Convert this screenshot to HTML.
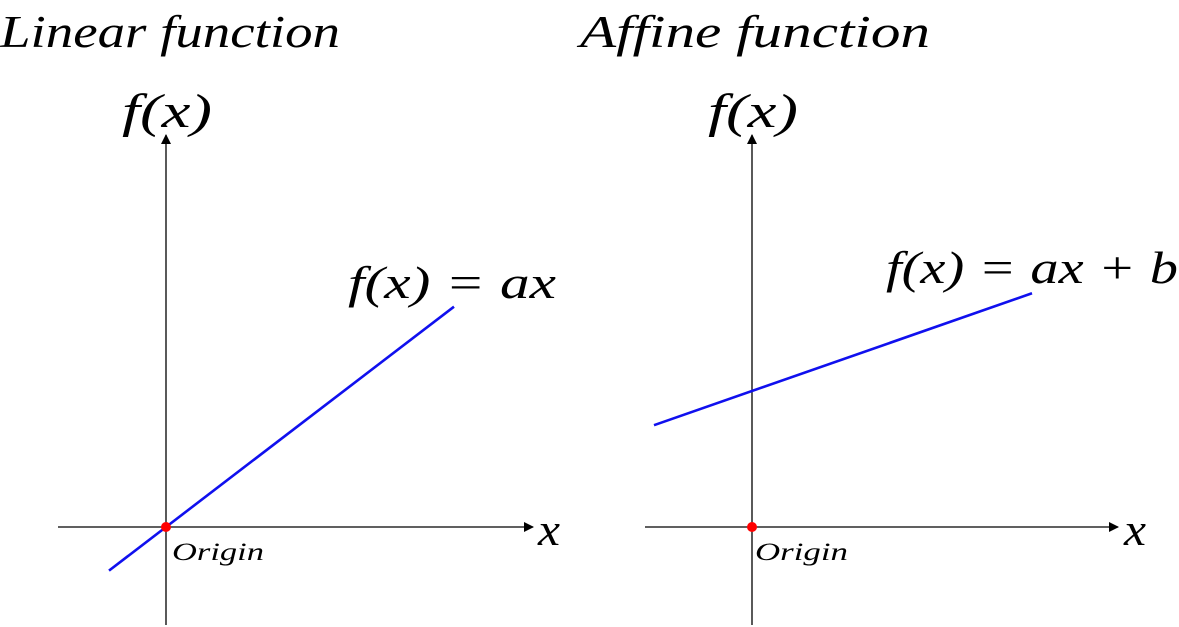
<!DOCTYPE html>
<html><head><meta charset="utf-8"><style>
html,body{margin:0;padding:0;background:#fff;width:1179px;height:627px;overflow:hidden}
svg text{font-family:"Liberation Serif","DejaVu Serif",serif;font-style:italic;fill:#000}
</style></head><body>
<svg id="chart" width="1179" height="627" viewBox="0 0 1179 627" xmlns="http://www.w3.org/2000/svg">
<defs><marker id="arr" markerWidth="10" markerHeight="10" refX="9" refY="5" orient="auto" markerUnits="userSpaceOnUse"><path d="M0,0 L10,5 L0,10 z" fill="#000"/></marker></defs>
<g id="left">
<text x="0" y="47" font-size="45" textLength="340" lengthAdjust="spacingAndGlyphs">Linear function</text>
<line x1="58" y1="527" x2="533" y2="527" stroke="#000" stroke-width="1.3" marker-end="url(#arr)"/>
<line x1="166" y1="625" x2="166" y2="135" stroke="#000" stroke-width="1.3" marker-end="url(#arr)"/>
<text x="122" y="127" font-size="48" textLength="90" lengthAdjust="spacingAndGlyphs">f(x)</text>
<text x="538" y="545" font-size="46" textLength="22" lengthAdjust="spacingAndGlyphs">x</text>
<text x="348" y="298" font-size="46" textLength="208" lengthAdjust="spacingAndGlyphs">f(x) = ax</text>
<text x="172" y="560" font-size="25" textLength="92" lengthAdjust="spacingAndGlyphs">Origin</text>
</g>
<g id="right">
<text x="580" y="47" font-size="45" textLength="350" lengthAdjust="spacingAndGlyphs">Affine function</text>
<line x1="645" y1="527" x2="1118" y2="527" stroke="#000" stroke-width="1.3" marker-end="url(#arr)"/>
<line x1="752" y1="625" x2="752" y2="135" stroke="#000" stroke-width="1.3" marker-end="url(#arr)"/>
<text x="708" y="127" font-size="48" textLength="90" lengthAdjust="spacingAndGlyphs">f(x)</text>
<text x="1124" y="545" font-size="46" textLength="22" lengthAdjust="spacingAndGlyphs">x</text>
<text x="886" y="283" font-size="46" textLength="292" lengthAdjust="spacingAndGlyphs">f(x) = ax + b</text>
<text x="755" y="560" font-size="25" textLength="93" lengthAdjust="spacingAndGlyphs">Origin</text>
</g>
</svg>
<script>
// data (1 unit = 100px)
const linearXRange = [-0.57, 2.88];
const linearSlope = [0.765];
const affineXRange = [-0.98, 2.80];
const affineSlope = [0.349];
const affineIntercept = [1.36];
const origins = [0, 0];

const NS = 'http://www.w3.org/2000/svg';
function sx(ox, v){ return ox + v*100; }
function sy(v){ return 527 - v*100; }
function drawLine(g, ox, xr, a, b){
  const l = document.createElementNS(NS,'line');
  l.setAttribute('x1', sx(ox, xr[0])); l.setAttribute('y1', sy(a*xr[0]+b));
  l.setAttribute('x2', sx(ox, xr[1])); l.setAttribute('y2', sy(a*xr[1]+b));
  l.setAttribute('stroke','#1010ee'); l.setAttribute('stroke-width','2.6');
  
  
  g.appendChild(l);
}
function drawOrigin(g, ox){
  const c = document.createElementNS(NS,'circle');
  c.setAttribute('cx', sx(ox, origins[0])); c.setAttribute('cy', sy(origins[1]));
  c.setAttribute('r','5'); c.setAttribute('fill','#ff0000');
  
  
  g.appendChild(c);
}
const L = document.getElementById('left'), R = document.getElementById('right');
drawLine(L, 166, linearXRange, linearSlope[0], 0);
drawOrigin(L, 166);
drawLine(R, 752, affineXRange, affineSlope[0], affineIntercept[0]);
drawOrigin(R, 752);
</script>
</body></html>
